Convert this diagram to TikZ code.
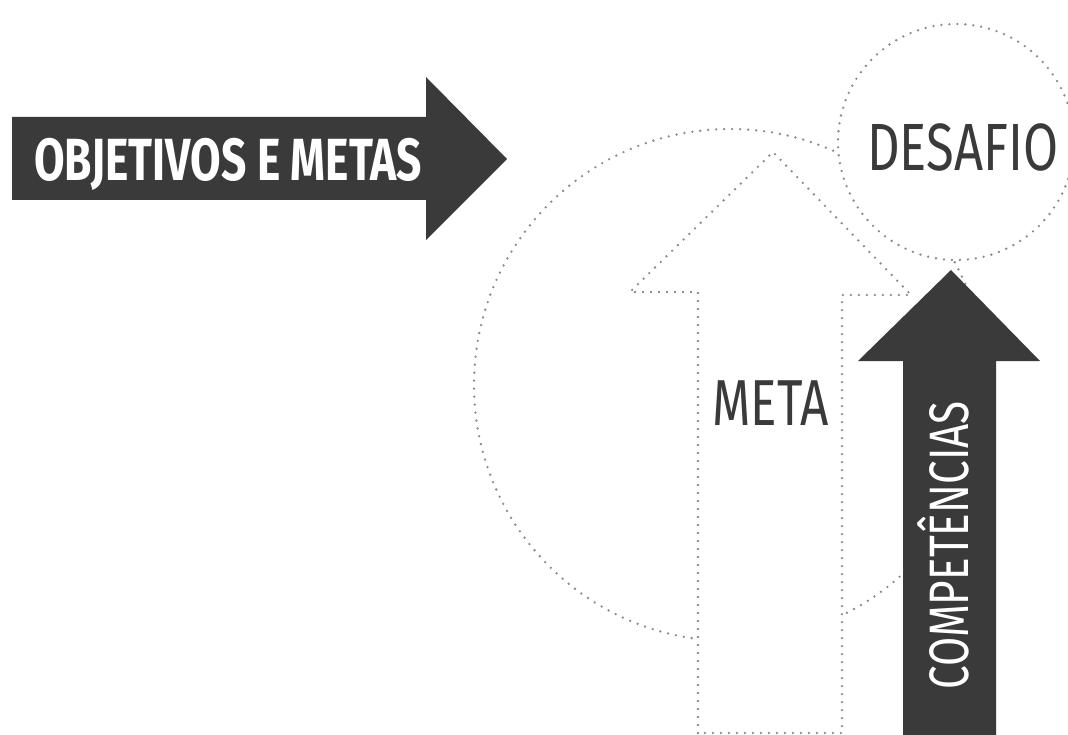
\documentclass[tikz,border=0pt]{standalone}
\usepackage{fontspec}
\newfontfamily\boldcond[FakeStretch=0.745]{Fira Sans}
\newfontfamily\lightcond[FakeStretch=0.76]{Fira Sans}
\definecolor{arrowgray}{HTML}{3A3A3A}
\definecolor{dotgray}{HTML}{8A8A8A}
\tikzset{
  dotline/.style={draw=dotgray, line width=2.6pt, dash pattern=on 0pt off 8pt, line cap=round},
  darktext/.style={text=arrowgray, inner sep=0pt},
  whitetext/.style={text=white, inner sep=0pt}
}

\begin{document}
\begin{tikzpicture}[x=1pt,y=-1pt] %%pixel coordinates, y downwards
\useasboundingbox (0,0) rectangle (1068,735);
\draw[dotline] (730,385) circle (256pt); %%Big circle
\draw[dotline, fill=white] (698,733) -- (698,292) -- (630,292) -- (773,152) -- (911,295) -- (842,295) -- (842,733) -- cycle; %%Meta arrow
\draw[dotline, fill=white] (956,142) circle (118pt); %%Desafio circle
\fill[arrowgray] (903,750) -- (903,361) -- (858,361) -- (951,270) -- (1040,361) -- (996,361) -- (996,750) -- cycle; %%Up arrow
\fill[arrowgray] (12,117) -- (426,117) -- (426,77) -- (507,159) -- (426,240) -- (426,200) -- (12,200) -- cycle; %%Right arrow
\node[whitetext, anchor=base west, font=\boldcond\bfseries\fontsize{59.5}{60}\selectfont] (objetivos) at (34,181) {OBJETIVOS E METAS};
\node[darktext, anchor=base west, font=\lightcond\fontsize{66.8}{67}\selectfont] (desafio) at (867,171) {DESAFIO};
\node[darktext, anchor=base west, font=\lightcond\fontsize{65}{65}\selectfont] (meta) at (712,425) {META};
\node[whitetext, anchor=base west, rotate=90, font=\lightcond\fontsize{55.6}{56}\selectfont] (competencias) at (968,690) {COMPETÊNCIAS};
\end{tikzpicture}
\end{document}
